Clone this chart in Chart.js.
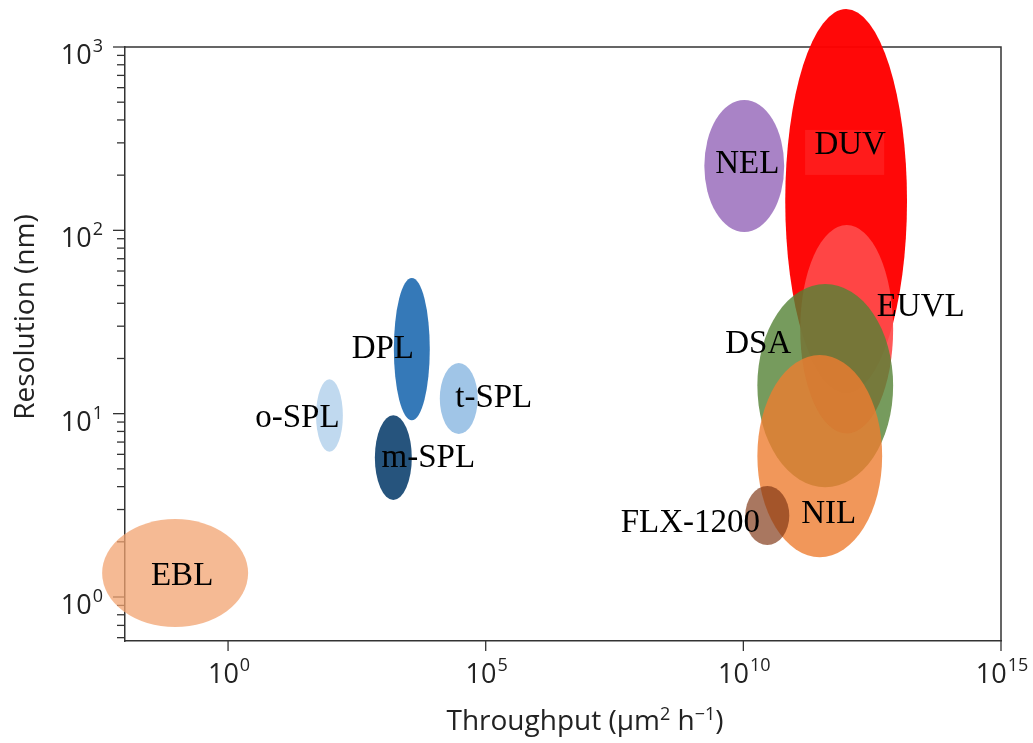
<!DOCTYPE html>
<html>
<head>
<meta charset="utf-8">
<script src="https://cdn.jsdelivr.net/npm/chart.js@4.4.1/dist/chart.umd.min.js"></script>
<style>
  html, body { margin: 0; padding: 0; background: #fff; }
  #wrap { width: 1033px; height: 743px; }
</style>
</head>
<body>
<div id="wrap"><canvas id="chart" width="1033" height="743"></canvas></div>
<script>
// lithography techniques: throughput range (um^2/h) and resolution range (nm)
const techniques = ["EBL", "o-SPL", "DPL", "m-SPL", "t-SPL", "NEL", "DUV", "EUVL", "DSA", "NIL", "FLX-1200"];
const throughputMin = [0.0036, 51, 1650, 706, 12850, 1.75e9, 6.5e10, 1.27e11, 1.87e10, 1.87e10, 1.09e10];
const throughputMax = [2.45, 169, 8220, 3680, 70000, 6.2e10, 1.5e13, 8.07e12, 8.07e12, 4.94e12, 7.8e10];
const resolutionMin = [0.686, 6.2, 9.2, 3.38, 7.74, 98, 13, 7.8, 3.97, 1.65, 1.92];
const resolutionMax = [2.66, 15.4, 55, 9.8, 18.9, 514, 1610, 107, 51, 20.9, 4.03];

const xTickValues = [1, 1e5, 1e10, 1e15];
const xTickExp = ["0", "5", "10", "15"];
const yTickValues = [1, 10, 100, 1000];
const yTickExp = ["0", "1", "2", "3"];

const fillColors = [
  "rgba(241,163,112,0.75)",
  "rgba(189,215,238,0.95)",
  "rgba(46,117,182,0.97)",
  "rgba(31,78,121,0.97)",
  "rgba(157,195,230,0.97)",
  "rgba(112,48,160,0.6)",
  "rgba(255,0,0,0.97)",
  "rgba(255,75,75,0.92)",
  "rgba(84,130,53,0.8)",
  "rgba(237,125,49,0.8)",
  "rgba(128,55,20,0.68)",
];
// label offset from the ellipse centre, px (text centre x, baseline y)
const labelOffsets = [
  [7, 12], [-32, 11.5], [-29, 9], [35, 9.5], [35, 8.5], [3, 7],
  [4, -47], [74, -13], [-67, -33], [9, 67], [-77, 16.5],
];

const axisColor = "#333";
const sansFont = "'Open Sans', 'Noto Sans', sans-serif";
const serifFont = "'Liberation Serif', 'DejaVu Serif', serif";

// text with a raised part, e.g. 10 + "5"
function drawPowerLabel(ctx, base, exp, x, y, align) {
  ctx.font = "27px " + sansFont;
  const wb = ctx.measureText(base).width;
  ctx.font = "18px " + sansFont;
  const we = ctx.measureText(exp).width;
  let left = x;
  if (align === "center") left = x - (wb + we + 1) / 2;
  if (align === "right") left = x - (wb + we + 1);
  ctx.textAlign = "left";
  ctx.font = "27px " + sansFont;
  ctx.fillText(base, left, y);
  ctx.font = "18px " + sansFont;
  ctx.fillText(exp, left + wb + 1, y - 12);
}

function drawRichText(ctx, parts, cx, y) {
  let total = 0;
  parts.forEach((p) => {
    ctx.font = (p.sup ? "18px " : "28px ") + sansFont;
    p.w = ctx.measureText(p.t).width;
    total += p.w;
  });
  let x = cx - total / 2;
  ctx.textAlign = "left";
  parts.forEach((p) => {
    ctx.font = (p.sup ? "18px " : "28px ") + sansFont;
    ctx.fillText(p.t, x, p.sup ? y - 10 : y);
    x += p.w;
  });
}

const ellipsePlugin = {
  id: "ellipses",
  beforeDatasetsDraw(chart) {
    const { ctx, chartArea: a } = chart;
    const xs = chart.scales.x;
    const ys = chart.scales.y;
    ctx.save();
    ctx.strokeStyle = axisColor;
    ctx.lineWidth = 1.5;
    ctx.beginPath();
    ctx.moveTo(a.left, a.top);
    ctx.lineTo(a.right, a.top);
    ctx.lineTo(a.right, a.bottom);
    ctx.stroke();

    // x major ticks
    ctx.lineWidth = 1.3;
    xs.ticks.forEach((t) => {
      const px = xs.getPixelForValue(t.value);
      ctx.beginPath();
      ctx.moveTo(px, a.bottom);
      ctx.lineTo(px, a.bottom + 10);
      ctx.stroke();
    });
    // y major + minor ticks
    for (let e = -1; e <= 3; e++) {
      for (let m = 1; m <= 9; m++) {
        const v = m * Math.pow(10, e);
        if (v < ys.min || v > ys.max * 1.0001) continue;
        const py = ys.getPixelForValue(v);
        const len = m === 1 ? 12 : 8;
        ctx.beginPath();
        ctx.moveTo(a.left - len, py);
        ctx.lineTo(a.left, py);
        ctx.stroke();
      }
    }
    ctx.restore();
  },
  afterDatasetsDraw(chart) {
    const { ctx } = chart;
    const xs = chart.scales.x;
    const ys = chart.scales.y;
    const centres = [];
    ctx.save();
    techniques.forEach((name, i) => {
      const x0 = xs.getPixelForValue(throughputMin[i]);
      const x1 = xs.getPixelForValue(throughputMax[i]);
      const y0 = ys.getPixelForValue(resolutionMax[i]);
      const y1 = ys.getPixelForValue(resolutionMin[i]);
      const cx = (x0 + x1) / 2;
      const cy = (y0 + y1) / 2;
      centres.push([cx, cy]);
      ctx.fillStyle = fillColors[i];
      ctx.beginPath();
      ctx.ellipse(cx, cy, (x1 - x0) / 2, (y1 - y0) / 2, 0, 0, Math.PI * 2);
      ctx.fill();
    });

    ctx.font = "33px " + serifFont;
    ctx.textBaseline = "alphabetic";
    ctx.textAlign = "center";
    techniques.forEach((name, i) => {
      const lx = centres[i][0] + labelOffsets[i][0];
      const ly = centres[i][1] + labelOffsets[i][1];
      if (name === "DUV") {
        // faint text-box behind the DUV label
        ctx.fillStyle = "rgba(255,45,45,0.5)";
        ctx.fillRect(lx - 45, ly - 24, 79, 45);
      }
      ctx.fillStyle = "#000";
      ctx.fillText(name, lx, ly);
    });
    ctx.restore();
  },
  afterDraw(chart) {
    const { ctx, chartArea: a } = chart;
    const xs = chart.scales.x;
    const ys = chart.scales.y;
    ctx.save();
    ctx.fillStyle = "#222";
    ctx.textBaseline = "alphabetic";
    xs.ticks.forEach((t, i) => {
      const px = xs.getPixelForValue(t.value);
      drawPowerLabel(ctx, "10", xTickExp[i], px + 1, a.bottom + 42, "center");
    });
    ys.ticks.forEach((t, i) => {
      const py = ys.getPixelForValue(t.value);
      drawPowerLabel(ctx, "10", yTickExp[i], 103, py + 17, "right");
    });

    drawRichText(ctx, [
      { t: "Throughput (\u03bcm" }, { t: "2", sup: true },
      { t: " h" }, { t: "\u22121", sup: true }, { t: ")" },
    ], 585, 730);

    ctx.translate(34, 317);
    ctx.rotate(-Math.PI / 2);
    ctx.font = "28px " + sansFont;
    ctx.textAlign = "center";
    ctx.fillText("Resolution (nm)", 0, 0);
    ctx.restore();
  },
};

const centrePoints = techniques.map((n, i) => ({
  x: Math.sqrt(throughputMin[i] * throughputMax[i]),
  y: Math.sqrt(resolutionMin[i] * resolutionMax[i]),
}));

const ctx = document.getElementById("chart").getContext("2d");
new Chart(ctx, {
  type: "scatter",
  data: {
    datasets: [{ label: "techniques", data: centrePoints, pointRadius: 0 }],
  },
  options: {
    responsive: false,
    animation: false,
    devicePixelRatio: 1,
    layout: { padding: { left: 0, top: 47, right: 32, bottom: 0 } },
    plugins: { legend: { display: false }, tooltip: { enabled: false } },
    scales: {
      x: {
        type: "logarithmic",
        min: 0.01,
        max: 1e15,
        grid: { display: false },
        border: { display: true, color: axisColor, width: 1.5 },
        ticks: { display: false },
        afterBuildTicks: (s) => { s.ticks = xTickValues.map((v) => ({ value: v })); },
        afterFit: (s) => { s.height = 102; },
      },
      y: {
        type: "logarithmic",
        min: Math.pow(10, -0.24),
        max: 1000,
        grid: { display: false },
        border: { display: true, color: axisColor, width: 1.5 },
        ticks: { display: false },
        afterBuildTicks: (s) => { s.ticks = yTickValues.map((v) => ({ value: v })); },
        afterFit: (s) => { s.width = 125; },
      },
    },
  },
  plugins: [ellipsePlugin],
});
</script>
</body>
</html>
